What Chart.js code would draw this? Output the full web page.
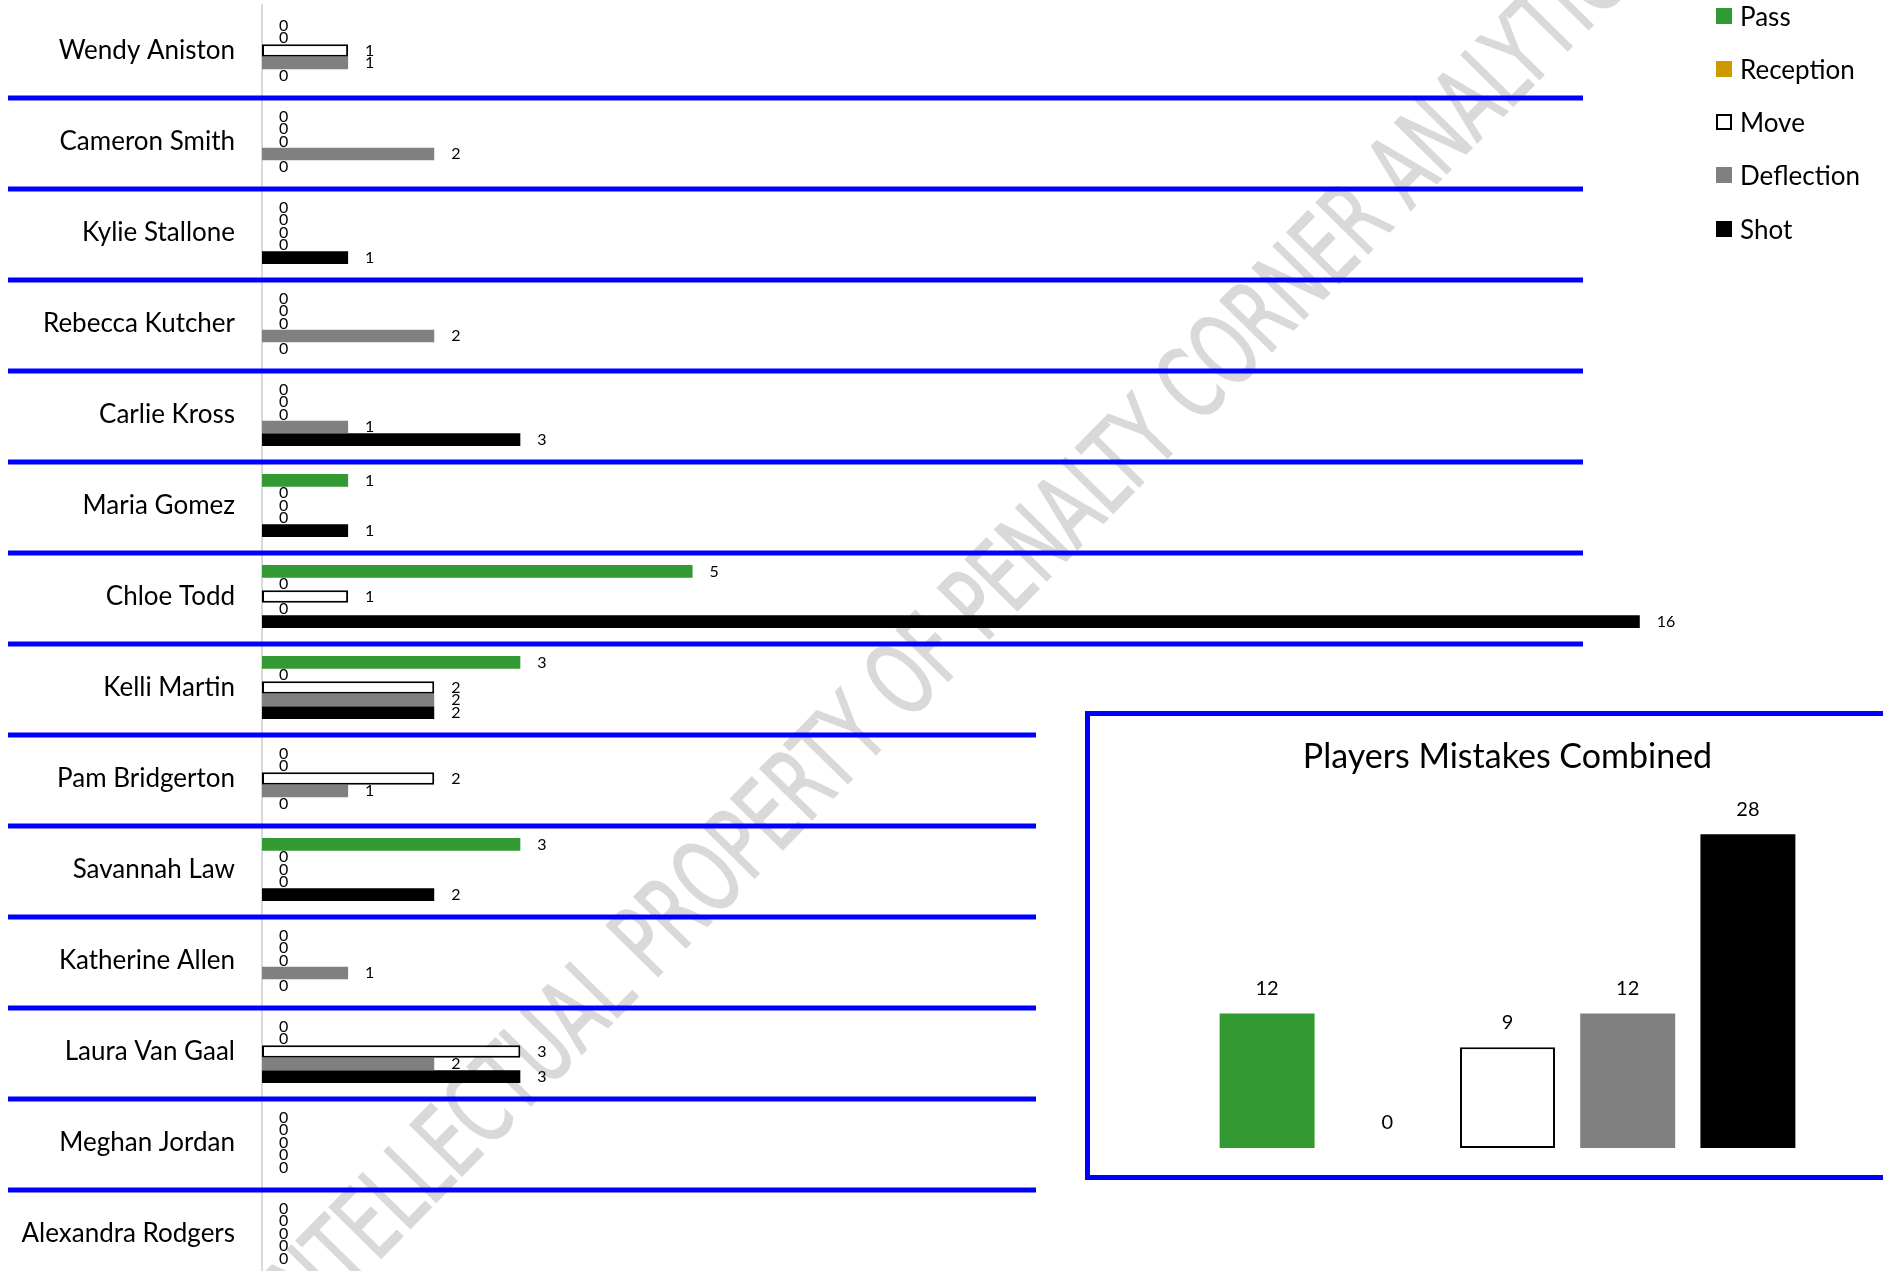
<!DOCTYPE html>
<html>
<head>
<meta charset="utf-8">
<title>Players Mistakes</title>
<script src="https://cdn.jsdelivr.net/npm/chart.js@4.4.1/dist/chart.umd.min.js"></script>
<style>
  html, body { margin: 0; padding: 0; background: #fff; overflow: hidden; width: 1883px; height: 1271px; }
  #watermark {
    position: absolute; left: 955px; top: 625px; z-index: 0;
    transform: translate(-50%, -50%) rotate(-45.5deg) scaleX(0.735);
    font-family: "Liberation Sans Narrow", "DejaVu Sans Condensed", sans-serif;
    font-size: 100px; color: #d9d9d9; white-space: nowrap;
    -webkit-text-stroke: 1.5px #d9d9d9;
  }
  #mainChart { position: absolute; left: 0; top: 0; z-index: 1; }
  #legend { position: absolute; left: 1716px; top: 0; z-index: 2; font-family: Lato, sans-serif; font-size: 26px; }
  #legend .item { position: absolute; left: 0; white-space: nowrap; height: 30px; line-height: 30px; }
  #legend .box { position: absolute; left: 0; top: 7px; width: 16px; height: 16px; box-sizing: border-box; }
  #legend .txt { position: absolute; left: 24px; top: 0; }
  #frame { position: absolute; left: 1085px; top: 711px; width: 900px; height: 459px; border: 5px solid #0000ff; z-index: 2; }
  #totalChart { position: absolute; left: 1092px; top: 716px; z-index: 3; }
</style>
</head>
<body>
<div id="watermark">INTELLECTUAL PROPERTY OF PENALTY CORNER ANALYTICS</div>
<canvas id="mainChart" width="1883" height="1290"></canvas>
<div id="legend"></div>
<div id="frame"></div>
<canvas id="totalChart" width="791" height="459"></canvas>
<script>
var players = ["Wendy Aniston", "Cameron Smith", "Kylie Stallone", "Rebecca Kutcher", "Carlie Kross",
    "Maria Gomez", "Chloe Todd", "Kelli Martin", "Pam Bridgerton", "Savannah Law",
    "Katherine Allen", "Laura Van Gaal", "Meghan Jordan", "Alexandra Rodgers"];
var seriesNames = ["Pass", "Reception", "Move", "Deflection", "Shot"];

var pass       = [0, 0, 0, 0, 0, 1, 5, 3, 0, 3, 0, 0, 0, 0];
var reception  = [0, 0, 0, 0, 0, 0, 0, 0, 0, 0, 0, 0, 0, 0];
var move       = [1, 0, 0, 0, 0, 0, 1, 2, 2, 0, 0, 3, 0, 0];
var deflection = [1, 2, 0, 2, 1, 0, 0, 2, 1, 0, 1, 2, 0, 0];
var shot       = [0, 0, 1, 0, 3, 1, 16, 2, 0, 2, 0, 3, 0, 0];

var totals = [12, 0, 9, 12, 28];

var fills   = ["#339933", "#cc9900", "#ffffff", "#808080", "#000000"];
var borders = ["#339933", "#cc9900", "#000000", "#808080", "#000000"];
var borderWidths = [0, 0, 2, 0, 0];

// value labels at the end of each bar
var barLabels = {
    id: "barLabels",
    afterDatasetsDraw: function(chart, args, opts) {
        var ctx = chart.ctx;
        ctx.save();
        ctx.font = opts.size + "px Lato";
        ctx.fillStyle = "#000";
        ctx.textBaseline = "middle";
        chart.data.datasets.forEach(function(ds, i) {
            chart.getDatasetMeta(i).data.forEach(function(bar, j) {
                var v = ds.data[j];
                if (opts.horizontal) {
                    ctx.textAlign = "left";
                    ctx.fillText(v, bar.x + opts.offset, bar.y);
                } else {
                    ctx.textAlign = "center";
                    ctx.fillText(v, bar.x, bar.y - opts.offset);
                }
            });
        });
        ctx.restore();
    }
};

// blue lines between players
var separators = {
    id: "separators",
    afterDatasetsDraw: function(chart) {
        var ctx = chart.ctx, y = chart.scales.y;
        ctx.save();
        ctx.strokeStyle = "#0000ff";
        ctx.lineWidth = 5;
        for (var i = 0; i < players.length - 1; i++) {
            var yy = (y.getPixelForTick(i) + y.getPixelForTick(i + 1)) / 2 + 2;
            var right = i < 7 ? 1583 : 1036;
            ctx.beginPath();
            ctx.moveTo(8, yy);
            ctx.lineTo(right, yy);
            ctx.stroke();
        }
        ctx.restore();
    }
};

var seriesData = [pass, reception, move, deflection, shot];

new Chart(document.getElementById("mainChart"), {
    type: "bar",
    data: {
        labels: players,
        datasets: seriesNames.map(function(name, k) {
            return {
                label: name,
                data: seriesData[k],
                backgroundColor: fills[k],
                borderColor: borders[k],
                borderWidth: borderWidths[k],
                borderSkipped: false
            };
        })
    },
    options: {
        indexAxis: "y",
        responsive: false,
        animation: false,
        layout: { padding: { top: 5, bottom: 11, left: 0, right: 71 } },
        datasets: { bar: { categoryPercentage: 0.69, barPercentage: 1 } },
        plugins: {
            legend: { display: false },
            tooltip: { enabled: false },
            barLabels: { horizontal: true, offset: 17, size: 16 }
        },
        scales: {
            x: { display: false, min: 0, max: 18 },
            y: {
                grid: { display: false, drawTicks: false },
                border: { display: true, color: "#d9d9d9", width: 2 },
                ticks: { color: "#000", padding: 27, font: { family: "Lato", size: 26 } },
                afterFit: function(scale) {
                    scale.width = 262;
                    scale.paddingTop = 0;
                    scale.paddingBottom = 0;
                }
            }
        }
    },
    plugins: [barLabels, separators]
});

new Chart(document.getElementById("totalChart"), {
    type: "bar",
    data: {
        labels: seriesNames,
        datasets: [{
            data: totals,
            backgroundColor: fills,
            borderColor: borders,
            borderWidth: borderWidths,
            borderSkipped: false
        }]
    },
    options: {
        responsive: false,
        animation: false,
        layout: { padding: { top: 0, bottom: 27, left: 115, right: 75 } },
        datasets: { bar: { categoryPercentage: 0.79, barPercentage: 1 } },
        plugins: {
            legend: { display: false },
            tooltip: { enabled: false },
            title: {
                display: true,
                text: "Players Mistakes Combined",
                color: "#000",
                font: { family: "Lato", size: 34, weight: "normal" },
                padding: { top: 21, bottom: 34 }
            },
            barLabels: { horizontal: false, offset: 25, size: 20 }
        },
        scales: {
            x: { display: false },
            y: { display: false, min: 0, max: 30 }
        }
    },
    plugins: [barLabels]
});

// legend
var legend = document.getElementById("legend");
var legendY = [16, 69, 122, 175, 229];
seriesNames.forEach(function(name, k) {
    var item = document.createElement("div");
    item.className = "item";
    item.style.top = (legendY[k] - 15) + "px";
    var box = document.createElement("span");
    box.className = "box";
    box.style.background = fills[k];
    if (borderWidths[k]) box.style.border = "2px solid " + borders[k];
    var txt = document.createElement("span");
    txt.className = "txt";
    txt.textContent = name;
    item.appendChild(box);
    item.appendChild(txt);
    legend.appendChild(item);
});
</script>
</body>
</html>
